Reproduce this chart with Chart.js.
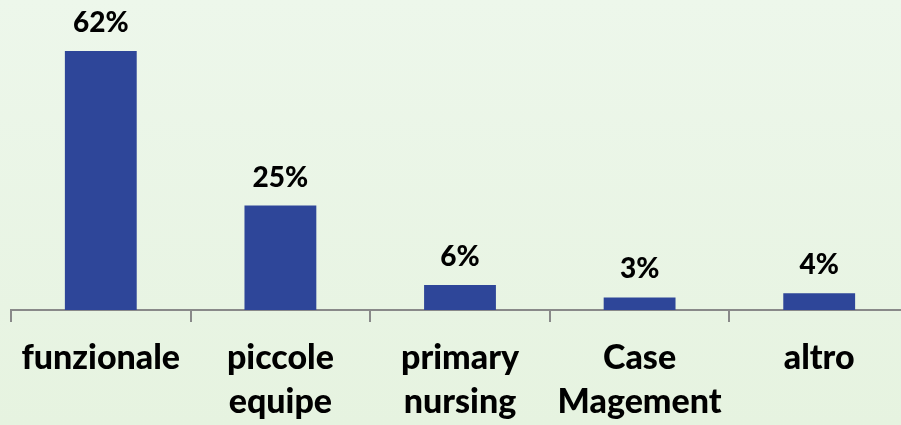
<!DOCTYPE html>
<html>
<head>
<meta charset="utf-8">
<script src="https://cdn.jsdelivr.net/npm/chart.js@4.4.0/dist/chart.umd.min.js"></script>
<style>
  html, body { margin: 0; padding: 0; overflow: hidden; background: #EAF4E5; }
  #wrap { position: relative; width: 920px; height: 425px; }
</style>
</head>
<body>
<div id="wrap"><canvas id="c"></canvas></div>
<script>
const categories = [['funzionale'], ['piccole', 'equipe'], ['primary', 'nursing'], ['Case', 'Magement'], ['altro']];
const values = [62, 25, 6, 3, 4];
const valueLabels = ['62%', '25%', '6%', '3%', '4%'];

const FONT = 'Lato, "Open Sans", sans-serif';

const bgPlugin = {
  id: 'bg',
  beforeDraw(chart) {
    const ctx = chart.ctx;
    const g = ctx.createLinearGradient(0, 0, 0, chart.height);
    g.addColorStop(0, '#EDF7EB');
    g.addColorStop(1, '#E6F3E0');
    ctx.save();
    ctx.fillStyle = g;
    ctx.fillRect(0, 0, chart.width, chart.height);
    ctx.restore();
  }
};

const valuePlugin = {
  id: 'vals',
  afterDatasetsDraw(chart) {
    const ctx = chart.ctx;
    const meta = chart.getDatasetMeta(0);
    ctx.save();
    ctx.fillStyle = '#000000';
    ctx.font = '900 28px ' + FONT;
    ctx.textAlign = 'center';
    ctx.textBaseline = 'alphabetic';
    meta.data.forEach((bar, i) => {
      ctx.fillText(valueLabels[i], bar.x, bar.y - 19);
    });
    ctx.restore();
  }
};

new Chart(document.getElementById('c'), {
  type: 'bar',
  data: {
    labels: categories,
    datasets: [{
      data: values,
      backgroundColor: '#2E4699',
      borderWidth: 0,
      barPercentage: 0.8,
      categoryPercentage: 0.5
    }]
  },
  options: {
    responsive: true,
    maintainAspectRatio: false,
    animation: false,
    events: [],
    layout: { padding: { left: 11, right: 11, top: 0, bottom: 0 } },
    plugins: { legend: { display: false }, tooltip: { enabled: false } },
    scales: {
      y: { display: false, min: 0, max: 74.2 },
      x: {
        afterFit(s) { s.height = 115; },
        border: { display: true, color: '#898989', width: 2 },
        grid: { display: true, offset: true, drawOnChartArea: false, drawTicks: true, tickLength: 12, color: '#898989', lineWidth: 2 },
        ticks: {
          color: '#000000',
          font: { family: FONT, weight: '900', size: 34, lineHeight: 1.3 },
          padding: 14,
          maxRotation: 0,
          autoSkip: false
        }
      }
    }
  },
  plugins: [bgPlugin, valuePlugin]
});
</script>
</body>
</html>
